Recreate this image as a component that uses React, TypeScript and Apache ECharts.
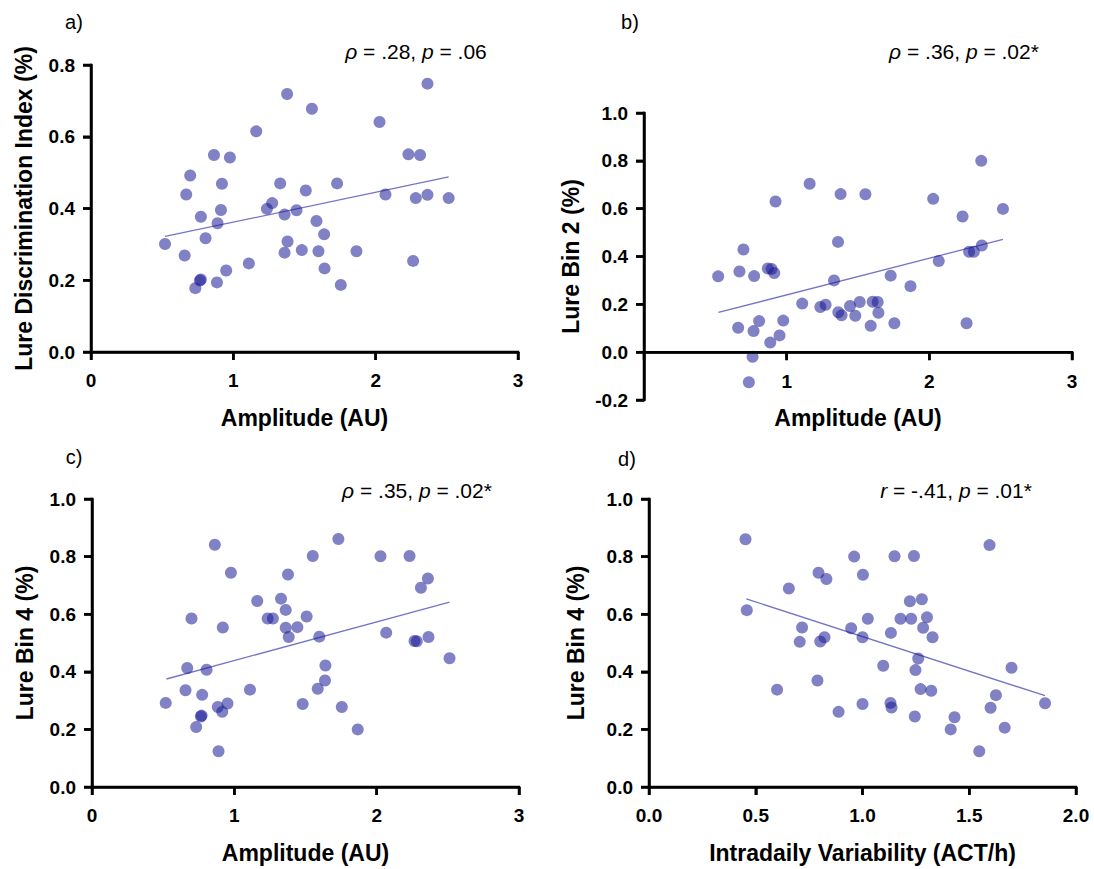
import { useEffect, useRef } from 'react';
import * as echarts from 'echarts';

// ---- Panel a: Amplitude vs Lure Discrimination Index ----
const ampA = [0.52, 0.658, 0.697, 0.669, 0.772, 0.805, 0.733, 0.765, 0.772, 0.864, 0.976, 0.92, 0.913, 0.889, 0.885, 0.95, 1.109, 1.161, 1.378, 1.552, 1.236, 1.273, 1.329, 1.36, 1.444, 1.509, 1.381, 1.36, 1.481, 1.598, 1.584, 1.638, 1.641, 1.729, 1.755, 1.865, 2.027, 2.069, 2.23, 2.312, 2.263, 2.282, 2.364, 2.364, 2.513];
const ldiA = [0.301, 0.269, 0.492, 0.439, 0.377, 0.317, 0.178, 0.199, 0.202, 0.549, 0.542, 0.469, 0.396, 0.359, 0.194, 0.227, 0.247, 0.615, 0.719, 0.678, 0.399, 0.415, 0.47, 0.383, 0.395, 0.45, 0.308, 0.277, 0.284, 0.281, 0.365, 0.328, 0.233, 0.47, 0.187, 0.281, 0.641, 0.439, 0.551, 0.549, 0.254, 0.429, 0.438, 0.748, 0.429];
const fitAx = [0.52, 2.513];
const fitAy = [0.322, 0.488];

// ---- Panel b: Amplitude vs Lure Bin 2 ----
const ampB = [0.52, 0.669, 0.697, 0.772, 0.66, 0.768, 0.807, 0.761, 0.735, 0.868, 0.894, 0.913, 0.922, 0.976, 0.95, 0.885, 1.109, 1.161, 1.236, 1.273, 1.332, 1.36, 1.378, 1.362, 1.385, 1.444, 1.481, 1.512, 1.552, 1.589, 1.603, 1.638, 1.643, 1.729, 1.755, 1.868, 2.027, 2.066, 2.233, 2.261, 2.279, 2.312, 2.364, 2.368, 2.516];
const bin2B = [0.317, 0.337, 0.429, 0.318, 0.102, 0.088, 0.13, -0.019, -0.126, 0.35, 0.348, 0.331, 0.63, 0.132, 0.07, 0.04, 0.203, 0.704, 0.189, 0.198, 0.3, 0.461, 0.661, 0.167, 0.154, 0.193, 0.152, 0.21, 0.66, 0.11, 0.211, 0.21, 0.165, 0.32, 0.121, 0.276, 0.641, 0.381, 0.567, 0.121, 0.42, 0.42, 0.8, 0.446, 0.599];
const fitBx = [0.522, 2.516];
const fitBy = [0.166, 0.472];

// ---- Panel c: Amplitude vs Lure Bin 4 ----
const ampC = [0.518, 0.657, 0.669, 0.699, 0.732, 0.765, 0.77, 0.774, 0.805, 0.863, 0.884, 0.889, 0.915, 0.919, 0.952, 0.976, 1.11, 1.161, 1.234, 1.271, 1.328, 1.361, 1.361, 1.377, 1.382, 1.443, 1.48, 1.508, 1.551, 1.586, 1.597, 1.637, 1.64, 1.731, 1.755, 1.867, 2.027, 2.067, 2.231, 2.266, 2.282, 2.311, 2.36, 2.364, 2.512];
const bin4C = [0.292, 0.336, 0.413, 0.585, 0.208, 0.245, 0.248, 0.32, 0.407, 0.841, 0.278, 0.124, 0.261, 0.554, 0.29, 0.744, 0.338, 0.646, 0.585, 0.585, 0.654, 0.615, 0.553, 0.738, 0.521, 0.555, 0.288, 0.592, 0.802, 0.341, 0.522, 0.37, 0.422, 0.861, 0.278, 0.2, 0.801, 0.536, 0.802, 0.507, 0.506, 0.692, 0.724, 0.521, 0.447];
const fitCx = [0.523, 2.512];
const fitCy = [0.375, 0.642];

// ---- Panel d: Intradaily Variability vs Lure Bin 4 ----
const ivD = [0.452, 0.458, 0.6, 0.655, 0.706, 0.717, 0.789, 0.794, 0.802, 0.822, 0.831, 0.888, 0.947, 0.961, 1.0, 1.0, 1.002, 1.025, 1.097, 1.131, 1.136, 1.133, 1.15, 1.178, 1.222, 1.228, 1.241, 1.245, 1.248, 1.261, 1.272, 1.278, 1.284, 1.302, 1.322, 1.328, 1.413, 1.431, 1.547, 1.595, 1.6, 1.625, 1.666, 1.698, 1.855];
const bin4D = [0.86, 0.614, 0.338, 0.689, 0.504, 0.554, 0.37, 0.744, 0.505, 0.52, 0.722, 0.261, 0.551, 0.8, 0.288, 0.52, 0.737, 0.584, 0.421, 0.292, 0.276, 0.535, 0.801, 0.584, 0.645, 0.584, 0.802, 0.245, 0.406, 0.446, 0.34, 0.652, 0.553, 0.589, 0.334, 0.52, 0.2, 0.242, 0.124, 0.84, 0.275, 0.319, 0.206, 0.414, 0.291];
const fitDx = [0.456, 1.855];
const fitDy = [0.653, 0.317];

// ---- tick values per panel ----
const xTicksAmp = [0, 1, 2, 3];
const xTicksIV = [0, 0.5, 1, 1.5, 2];
const yTicksA = [0, 0.2, 0.4, 0.6, 0.8];
const yTicksB = [-0.2, 0, 0.2, 0.4, 0.6, 0.8, 1.0];
const yTicksCD = [0, 0.2, 0.4, 0.6, 0.8, 1.0];

const panelLetters = ['a)', 'b)', 'c)', 'd)'];
const statTexts = [
  '{i|ρ} = .28, {i|p} = .06',
  '{i|ρ} = .36, {i|p} = .02*',
  '{i|ρ} = .35, {i|p} = .02*',
  '{i|r} = -.41, {i|p} = .01*',
];
const xNames = ['Amplitude (AU)', 'Amplitude (AU)', 'Amplitude (AU)', 'Intradaily Variability (ACT/h)'];
const yNames = ['Lure Discrimination Index (%)', 'Lure Bin 2 (%)', 'Lure Bin 4 (%)', 'Lure Bin 4 (%)'];

const FONT = "'Liberation Sans', Arial, Helvetica, sans-serif";
const DOT = 'rgba(26,26,150,0.55)';
const FIT = 'rgba(70,70,180,0.75)';
const AXIS_W = 2.5;
const TICK_LEN = 8;

const zip = (xs: number[], ys: number[]) => xs.map((x, i) => [x, ys[i]]);

const scatterSets = [zip(ampA, ldiA), zip(ampB, bin2B), zip(ampC, bin4C), zip(ivD, bin4D)];
const fitSets = [zip(fitAx, fitAy), zip(fitBx, fitBy), zip(fitCx, fitCy), zip(fitDx, fitDy)];
const xTickSets = [xTicksAmp, xTicksAmp, xTicksAmp, xTicksIV];
const yTickSets = [yTicksA, yTicksB, yTicksCD, yTicksCD];

const boxes = [
  { left: 0, top: 0, width: 547, height: 434 },
  { left: 547, top: 0, width: 547, height: 434 },
  { left: 0, top: 434, width: 547, height: 435 },
  { left: 547, top: 434, width: 547, height: 435 },
];
const grids = [
  { left: 91, top: 65, width: 427, height: 292 },
  { left: 97, top: 113, width: 428, height: 292 },
  { left: 92, top: 65, width: 427, height: 293 },
  { left: 102, top: 65, width: 427, height: 293 },
];
const xCfg = [
  { interval: 1, dec: 0, onZero: false, showMin: true, margin: 19, gap: 54 },
  { interval: 1, dec: 0, onZero: true, showMin: false, margin: -28, gap: 6 },
  { interval: 1, dec: 0, onZero: false, showMin: true, margin: 19, gap: 54 },
  { interval: 0.5, dec: 1, onZero: false, showMin: true, margin: 19, gap: 54 },
];
const yGaps = [56, 62, 56, 62];
const letterPos = [
  [74, 22],
  [83, 22],
  [74, 23],
  [80, 25],
];
const statPos = [
  [416, 51],
  [417, 51],
  [417, 56],
  [409, 56],
];

function textGraphics(i: number): any[] {
  return [
    {
      type: 'text',
      x: letterPos[i][0],
      y: letterPos[i][1],
      style: {
        text: panelLetters[i],
        fill: '#000',
        fontSize: 20,
        fontFamily: FONT,
        align: 'center',
        verticalAlign: 'middle',
      },
    },
    {
      type: 'text',
      x: statPos[i][0],
      y: statPos[i][1],
      style: {
        text: statTexts[i],
        fill: '#000',
        fontSize: 21,
        fontFamily: FONT,
        align: 'center',
        verticalAlign: 'middle',
        rich: {
          i: { fontStyle: 'italic', fontSize: 21, fontFamily: FONT, fill: '#000' },
        },
      },
    },
  ];
}

function buildOption(i: number): any {
  const c = xCfg[i];
  const xt = xTickSets[i];
  const yt = yTickSets[i];
  return {
    animation: false,
    backgroundColor: '#fff',
    grid: [{ ...grids[i] }],
    xAxis: [
      {
        type: 'value',
        min: xt[0],
        max: xt[xt.length - 1],
        interval: c.interval,
        name: xNames[i],
        nameLocation: 'middle',
        nameGap: c.gap,
        nameTextStyle: { color: '#000', fontSize: 23, fontWeight: 'bold', fontFamily: FONT },
        axisLine: { show: true, onZero: c.onZero, lineStyle: { color: '#000', width: AXIS_W } },
        axisTick: { show: true, length: TICK_LEN, lineStyle: { color: '#000', width: AXIS_W } },
        splitLine: { show: false },
        axisLabel: {
          color: '#000',
          fontSize: 19,
          fontWeight: 'bold',
          fontFamily: FONT,
          margin: c.margin,
          showMinLabel: c.showMin,
          formatter: (v: number) => v.toFixed(c.dec),
        },
      },
    ],
    yAxis: [
      {
        type: 'value',
        min: yt[0],
        max: yt[yt.length - 1],
        interval: 0.2,
        name: yNames[i],
        nameLocation: 'middle',
        nameGap: yGaps[i],
        nameTextStyle: { color: '#000', fontSize: 23, fontWeight: 'bold', fontFamily: FONT },
        axisLine: { show: true, onZero: false, lineStyle: { color: '#000', width: AXIS_W } },
        axisTick: { show: true, length: TICK_LEN, lineStyle: { color: '#000', width: AXIS_W } },
        splitLine: { show: false },
        axisLabel: {
          color: '#000',
          fontSize: 19,
          fontWeight: 'bold',
          fontFamily: FONT,
          margin: 16,
          formatter: (v: number) => v.toFixed(1),
        },
      },
    ],
    series: [
      {
        type: 'line',
        data: fitSets[i],
        showSymbol: false,
        symbol: 'none',
        silent: true,
        lineStyle: { color: FIT, width: 1.3 },
        z: 1,
      },
      {
        type: 'scatter',
        data: scatterSets[i],
        symbolSize: 12,
        itemStyle: { color: DOT, opacity: 1 },
        z: 2,
      },
    ],
    graphic: textGraphics(i),
  };
}

// axis lines and ticks, placed through the chart's own scales
function axisGraphics(chart: any, i: number): any[] {
  const xt = xTickSets[i];
  const yt = yTickSets[i];
  const xMin = xt[0];
  const xMax = xt[xt.length - 1];
  const yMin = yt[0];
  const yMax = yt[yt.length - 1];
  const xAxisAt = xCfg[i].onZero ? 0 : yMin;
  const px = (x: number, y: number) => chart.convertToPixel({ gridIndex: 0 }, [x, y]) as number[];
  const stroke = { stroke: '#000', lineWidth: AXIS_W, fill: 'none' };
  const out: any[] = [];
  const y0 = px(xMin, yMin);
  const y1 = px(xMin, yMax);
  out.push({ type: 'polyline', silent: true, z: 50, shape: { points: [y0, y1] }, style: { ...stroke, lineCap: 'square' } });
  const x0 = px(xMin, xAxisAt);
  const x1 = px(xMax, xAxisAt);
  out.push({ type: 'polyline', silent: true, z: 50, shape: { points: [x0, x1] }, style: { ...stroke, lineCap: 'square' } });
  yt.forEach((v) => {
    const p = px(xMin, v);
    out.push({
      type: 'polyline',
      silent: true,
      z: 50,
      shape: { points: [[p[0] - TICK_LEN, p[1]], [p[0], p[1]]] },
      style: { ...stroke },
    });
  });
  xt.forEach((v) => {
    const p = px(v, xAxisAt);
    out.push({
      type: 'polyline',
      silent: true,
      z: 50,
      shape: { points: [[p[0], p[1]], [p[0], p[1] + TICK_LEN]] },
      style: { ...stroke },
    });
  });
  return out;
}

function Panel({ index }: { index: number }) {
  const ref = useRef<HTMLDivElement>(null);
  useEffect(() => {
    const chart = echarts.init(ref.current!, null, { renderer: 'svg' });
    chart.setOption(buildOption(index));
    try {
      chart.setOption({ graphic: [...textGraphics(index), ...axisGraphics(chart, index)] });
    } catch (e) {
      // keep the chart even if the overlay cannot be built
    }
    return () => chart.dispose();
  }, [index]);
  const b = boxes[index];
  return (
    <div
      ref={ref}
      style={{ position: 'absolute', left: b.left, top: b.top, width: b.width, height: b.height }}
    />
  );
}

export default function App() {
  return (
    <div style={{ position: 'absolute', left: 0, top: 0, width: 1094, height: 869, background: '#fff' }}>
      <Panel index={0} />
      <Panel index={1} />
      <Panel index={2} />
      <Panel index={3} />
    </div>
  );
}
